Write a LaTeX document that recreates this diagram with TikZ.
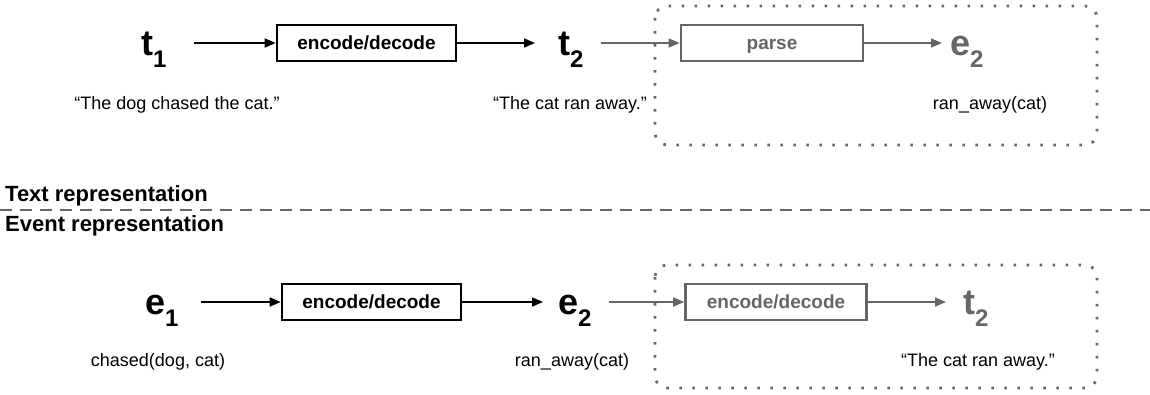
\documentclass[tikz,border=0pt]{standalone}
\usepackage{fontspec}
\setmainfont{Liberation Sans}
\usetikzlibrary{arrows.meta,calc}
\definecolor{gr}{HTML}{666666}
\begin{document}
\begin{tikzpicture}[x=1pt,y=-1pt,
  big/.style={inner sep=0pt, font=\fontsize{36}{36}\selectfont\bfseries},
  proc/.style={draw, line width=2.6pt, minimum height=36pt, inner sep=0pt, text height=14pt, text depth=2pt, font=\fontsize{19}{19}\selectfont\bfseries},
  txt/.style={inner sep=0pt, font=\fontsize{18}{18}\selectfont},
  head/.style={inner sep=0pt, anchor=west, font=\fontsize{22}{22}\selectfont\bfseries},
  arr/.style={line width=1.6pt, -{Triangle[length=11pt,width=9pt]}},
  dotbox/.style={gr, line width=2.8pt, dash pattern=on 2.6pt off 10.4pt, rounded corners=12pt},
  faded/.style={gr, text=gr}
]
\useasboundingbox (0,0) rectangle (1150,394);
\newcommand{\sub}[1]{\raisebox{-12pt}{\fontsize{24}{24}\selectfont #1}}

% ---------- top row ----------
\node[big, anchor=base west] (t1) at (141,55) {t\sub{1}};
\node[proc, minimum width=179pt] (b1) at (366.5,43) {encode/decode};
\node[big, anchor=base west] (t2) at (558,55) {t\sub{2}};
\node[proc, faded, minimum width=182pt] (p1) at (772,43) {parse};
\node[big, faded, anchor=base west] (e2a) at (950,55) {e\sub{2}};

\draw[arr, shorten <=27pt] (t1.east |- b1.west) -- (b1.west);
\draw[arr, shorten >=23pt] (b1.east) -- (t2.west |- b1.east);
\draw[arr, gr, shorten <=17pt] (t2.east |- p1.west) -- (p1.west);
\draw[arr, gr, shorten >=8pt] (p1.east) -- (e2a.west |- p1.east);

\node[txt] (s1) at (177,105) {“The dog chased the cat.”};
\node[txt, anchor=east] (s2) at (647,105) {“The cat ran away.”};
\node[txt] (s3) at (990,105) {ran\_away(cat)};

\draw[dotbox] (655,6) rectangle (1097,145);

% ---------- separator ----------
\node[head] (h1) at (5,196) {Text representation};
\draw[gr, line width=2pt, dash pattern=on 12pt off 8pt] (0,210) -- (1150,210);
\node[head] (h2) at (5,226) {Event representation};

% ---------- bottom row ----------
\node[big, anchor=base west] (e1) at (145,314) {e\sub{1}};
\node[proc, minimum width=179pt] (b2) at (371.5,302) {encode/decode};
\node[big, anchor=base west] (e2b) at (558,314) {e\sub{2}};
\node[proc, faded, minimum width=181pt] (b3) at (776,302) {encode/decode};
\node[big, faded, anchor=base west] (t2b) at (963,314) {t\sub{2}};

\draw[arr, shorten <=22pt] (e1.east |- b2.west) -- (b2.west);
\draw[arr, shorten >=15pt] (b2.east) -- (e2b.west |- b2.east);
\draw[arr, gr, shorten <=17pt] (e2b.east |- b3.west) -- (b3.west);
\draw[arr, gr, shorten >=17pt] (b3.east) -- (t2b.west |- b3.east);

\node[txt] (r1) at (158,362) {chased(dog, cat)};
\node[txt] (r2) at (572,362) {ran\_away(cat)};
\node[txt] (r3) at (978,362) {“The cat ran away.”};

\draw[dotbox] (655,265) rectangle (1097,388);
\end{tikzpicture}
\end{document}
